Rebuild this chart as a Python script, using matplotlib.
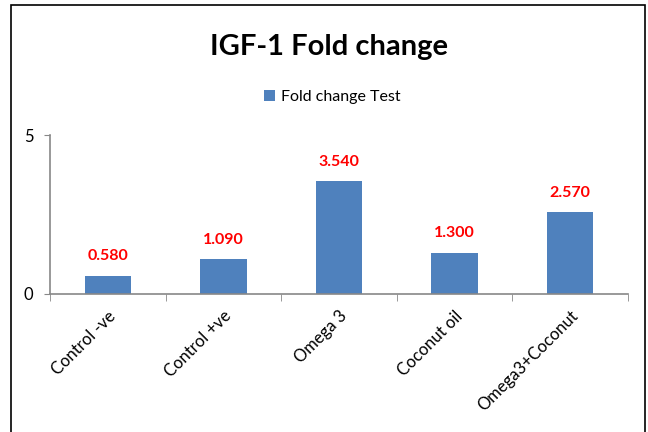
import matplotlib.pyplot as plt
import numpy as np
from matplotlib.patches import Rectangle

categories = ["Control -ve", "Control +ve", "Omega 3", "Coconut oil", "Omega3+Coconut"]
fold_change = [0.580, 1.090, 3.540, 1.300, 2.570]
series_name = "Fold change Test"

plt.rcParams["font.family"] = ["Lato", "DejaVu Sans"]

fig = plt.figure(figsize=(6.48, 4.32), dpi=100)
ax = fig.add_axes([50 / 648, 1 - 294 / 432, 578 / 648, 159 / 432])

x = np.arange(len(categories))
bars = ax.bar(x, fold_change, width=0.4, color="#4F81BD", label=series_name, zorder=2)

for xi, v in zip(x, fold_change):
    ax.annotate(f"{v:.3f}", xy=(xi, v), xytext=(0, 9), textcoords="offset points",
                ha="center", va="bottom", color="#FF0000", fontsize=11.5, fontweight="bold")

ax.set_xlim(-0.5, len(categories) - 0.5)
ax.set_ylim(0, 5)
ax.set_yticks([0, 5])
ax.tick_params(axis="y", labelsize=12, length=4, color="#888888", pad=8)
ax.set_xticks(x, categories, rotation=45, ha="right", rotation_mode="anchor", fontsize=12)
ax.set_xticks(np.arange(len(categories) + 1) - 0.5, minor=True)
ax.tick_params(axis="x", which="major", length=0, pad=10)
ax.tick_params(axis="x", which="minor", length=5, color="#888888")

for side in ("top", "right"):
    ax.spines[side].set_visible(False)
for side in ("left", "bottom"):
    ax.spines[side].set_color("#888888")
    ax.spines[side].set_linewidth(1.2)

fig.text(0.508, 1 - 47 / 432, "IGF-1 Fold change", ha="center", va="center",
         fontsize=21, fontweight="bold")
fig.legend(handles=[bars], labels=[series_name], loc="center",
           bbox_to_anchor=(0.513, 1 - 97 / 432), frameon=False, fontsize=11.5,
           handlelength=0.7, handleheight=0.7, handletextpad=0.4)

fig.patches.append(Rectangle((11 / 648, -0.02), 634 / 648, 1.02 - 5 / 432,
                             transform=fig.transFigure, fill=False,
                             edgecolor="black", linewidth=1.2))

fig.savefig("out.png", dpi=100)
